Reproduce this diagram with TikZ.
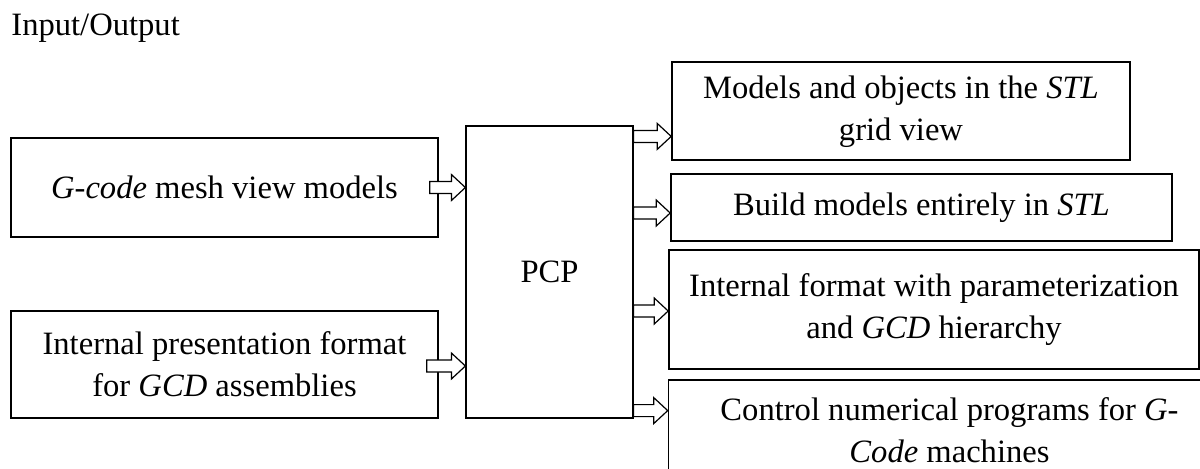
\documentclass[tikz,border=0pt]{standalone}
\usepackage{fontspec}
\setmainfont{Liberation Serif}
\usepackage{tikz}
\usetikzlibrary{calc}
\tikzstyle{inbox} = [rectangle, minimum width=213.5pt, text centered, align=center, draw=black, line width=0.8pt]
\tikzstyle{outbox} = [rectangle, text centered, align=center, draw=black, line width=0.8pt]
\tikzstyle{core} = [rectangle, minimum width=83.5pt, minimum height=146pt, text centered, draw=black, line width=0.6pt]
\tikzstyle{arrow} = [draw=black, fill=white, line width=0.6pt, to path={($(\tikztostart)+(0,3pt)$) -- ($(\tikztotarget)+(-7pt,3pt)$) -- ($(\tikztotarget)+(-7pt,6.5pt)$) -- (\tikztotarget) -- ($(\tikztotarget)+(-7pt,-6.5pt)$) -- ($(\tikztotarget)+(-7pt,-3pt)$) -- ($(\tikztostart)+(0,-3pt)$) -- cycle}]

\begin{document}
\begin{tikzpicture}[x=0.5pt, y=-0.5pt, font=\fontsize{16.3}{21}\selectfont]
	\useasboundingbox (0,0) rectangle (1200,468);
	\node (title) [anchor=base west, inner sep=0pt] at (11,35) {Input/Output};

	\node (gcode) [inbox, minimum height=49.5pt] at (224.5,187.5) {\textit{G-code} mesh view models};
	\node (gcd) [inbox, minimum height=53.5pt] at (224.5,364.5) {Internal presentation format\\for \textit{GCD} assemblies};
	\node (pcp) [core] at (549.5,272) {PCP};

	\node (stl) [outbox, minimum width=229pt, minimum height=49pt, text depth=3pt] at (901,111) {Models and objects in the \textit{STL}\\grid view};
	\node (build) [outbox, minimum width=250.5pt, minimum height=33.5pt] at (921.5,207.5) {Build models entirely in \textit{STL}};
	\node (param) [outbox, minimum width=265pt, minimum height=59.5pt] at (934,309.5) {Internal format with parameterization\\and \textit{GCD} hierarchy};
	\node (ctrl) [outbox, minimum width=281pt, minimum height=50pt] at (949.5,430) {Control numerical programs for \textit{G-}\\\textit{Code} machines};

	\draw [arrow] ([xshift=-4.5pt]gcode.east) to (gcode.east -| pcp.west);
	\draw [arrow] ([xshift=-6pt, yshift=-0.75pt]gcd.east) to ([yshift=-0.75pt]gcd.east -| pcp.west);
	\draw [arrow] ([yshift=-5.5pt]pcp.north east) to ([yshift=-5.5pt]pcp.north east -| stl.west);
	\draw [arrow] ([yshift=-2.75pt]pcp.east |- build) to ([yshift=-2.75pt]build.west);
	\draw [arrow] ([yshift=-0.75pt]pcp.east |- param) to ([yshift=-0.75pt]param.west);
	\draw [arrow] ([yshift=4pt]pcp.south east) to ([yshift=4pt]pcp.south east -| ctrl.west);
\end{tikzpicture}
\end{document}
